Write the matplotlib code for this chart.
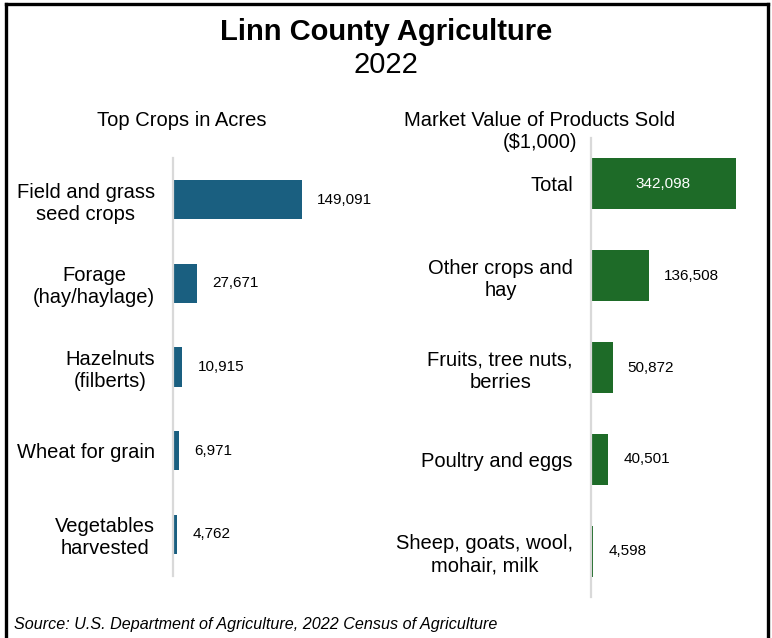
import matplotlib
matplotlib.use('Agg')
from matplotlib import pyplot as plt
from matplotlib.lines import Line2D

plt.rcParams['font.family'] = ['Liberation Sans', 'DejaVu Sans']

# Данные
crop_names = ['Field and grass\nseed crops', 'Forage\n(hay/haylage)', 'Hazelnuts\n(filberts)',
              'Wheat for grain', 'Vegetables\nharvested']
crop_acres = [149091, 27671, 10915, 6971, 4762]

product_names = ['Total', 'Other crops and\nhay', 'Fruits, tree nuts,\nberries',
                 'Poultry and eggs', 'Sheep, goats, wool,\nmohair, milk']
product_values = [342098, 136508, 50872, 40501, 4598]

W, H = 772, 638


def style_axes(ax, labels):
    """Оформление осей: только левая линия, без делений"""
    for side in ['top', 'right', 'bottom']:
        ax.spines[side].set_visible(False)
    ax.spines['left'].set_color('#d9d9d9')
    ax.spines['left'].set_linewidth(1.6)
    ax.set_xticks([])
    ax.set_yticks(range(len(labels)))
    ax.set_yticklabels(labels, fontsize=14.5)
    ax.tick_params(axis='y', length=0, pad=13)
    for t in ax.get_yticklabels():
        t.set_multialignment('center')
    ax.set_ylim(4.5, -0.5)


fig = plt.figure(figsize=(W / 100, H / 100), dpi=100)

# Левый график - площади культур
ax1 = fig.add_axes([173 / W, 1 - 576 / H, 207 / W, 418 / H])
ax1.barh(range(len(crop_acres)), crop_acres, height=0.467, color='#1a5f80')
ax1.set_xlim(0, 149091 * 207 / 129)
style_axes(ax1, crop_names)
for i, v in enumerate(crop_acres):
    ax1.annotate(f'{v:,}', (v, i), xytext=(11, 0), textcoords='offset points',
                 va='center', ha='left', fontsize=11)

# Правый график - рыночная стоимость
ax2 = fig.add_axes([591 / W, 1 - 597 / H, 171 / W, 459 / H])
ax2.barh(range(len(product_values)), product_values, height=0.557, color='#1e6b28')
ax2.set_xlim(0, 342098 * 171 / 145)
style_axes(ax2, product_names)
for i, v in enumerate(product_values):
    if i == 0:
        ax2.text(v / 2, i, f'{v:,}', va='center', ha='center', fontsize=11, color='white')
    else:
        ax2.annotate(f'{v:,}', (v, i), xytext=(11, 0), textcoords='offset points',
                     va='center', ha='left', fontsize=11)

# Заголовки
fig.text(0.5, 1 - 32 / H, 'Linn County Agriculture', ha='center', va='center',
         fontsize=21, fontweight='bold')
fig.text(0.5, 1 - 65 / H, '2022', ha='center', va='center', fontsize=21)
fig.text(182 / W, 1 - 121 / H, 'Top Crops in Acres', ha='center', va='center', fontsize=14.5)
fig.text(540 / W, 1 - 132 / H, 'Market Value of Products Sold\n($1,000)', ha='center',
         va='center', fontsize=14.5, linespacing=1.2)
fig.text(14 / W, 1 - 625 / H, 'Source: U.S. Department of Agriculture, 2022 Census of Agriculture',
         ha='left', va='center', fontsize=11.6, style='italic')

# Рамка
fig.add_artist(Line2D([6 / W, 6 / W], [0, 1 - 4 / H], color='black', linewidth=2.4))
fig.add_artist(Line2D([6 / W, 768 / W], [1 - 4 / H, 1 - 4 / H], color='black', linewidth=2.4))
fig.add_artist(Line2D([768 / W, 768 / W], [0, 1 - 4 / H], color='black', linewidth=2.4))

fig.savefig('out.png', dpi=100)
